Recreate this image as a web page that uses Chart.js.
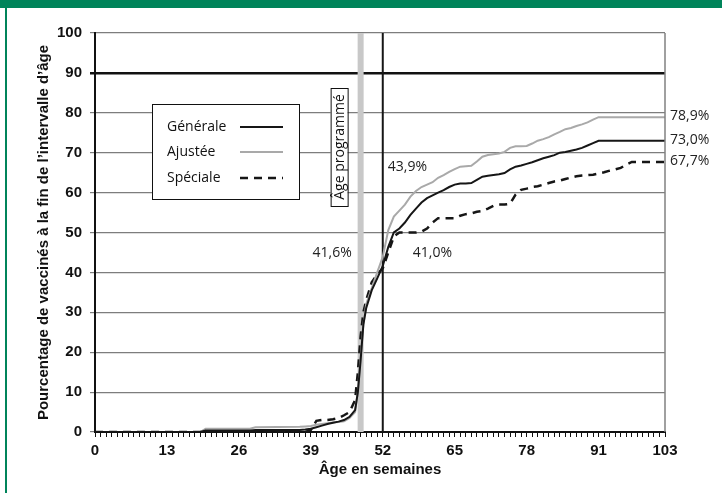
<!DOCTYPE html>
<html lang="fr">
<head>
<meta charset="utf-8">
<script src="https://cdn.jsdelivr.net/npm/chart.js@4.4.0/dist/chart.umd.min.js"></script>
<style>
    html, body { margin: 0; padding: 0; background: #fff; }
    #wrap { position: relative; width: 722px; height: 493px; overflow: hidden; }
    #bandeau { position: absolute; left: 0; top: 0; width: 722px; height: 8px; background: #00845a; z-index: 2; }
    #bord { position: absolute; left: 5px; top: 0; width: 2px; height: 493px; background: #00845a; z-index: 2; }
    canvas { position: absolute; left: 0; top: 0; }
</style>
</head>
<body>
<div id="wrap">
    <canvas id="courbes" width="722" height="493"></canvas>
    <div id="bandeau"></div>
    <div id="bord"></div>
</div>
<script>
// semaines d'âge (axe x)
const semaines = [0, 19, 20, 28, 29, 37, 38, 39, 40, 41, 42, 43, 44, 45, 46, 47, 47.5, 48, 48.5,
    49, 50, 51, 52, 53, 54, 55, 56, 57, 58, 59, 60, 61, 62, 63, 64, 65, 66, 67, 68, 69, 70, 71, 72,
    73, 74, 75, 76, 77, 78, 79, 80, 81, 82, 83, 84, 85, 86, 87, 88, 89, 90, 91, 92, 93, 94, 95, 96, 97, 103];

const generale = [0, 0, 0.4, 0.4, 0.5, 0.5, 0.6, 0.8, 1.2, 1.6, 2.0, 2.3, 2.6, 3.0, 3.8, 5.5, 10, 18, 27,
    31, 35.5, 38.5, 41.6, 46.4, 50, 51, 52.5, 54.4, 56, 57.5, 58.6, 59.3, 60, 60.6, 61.4, 62, 62.3, 62.3, 62.4, 63.2, 64, 64.2, 64.4,
    64.6, 64.9, 65.8, 66.5, 66.8, 67.2, 67.6, 68.1, 68.6, 69, 69.4, 70, 70.2, 70.5, 70.8, 71.2, 71.8, 72.4, 73, 73, 73, 73, 73, 73, 73, 73];

const ajustee = [0, 0, 0.8, 0.8, 1.2, 1.3, 1.4, 1.5, 1.8, 2.0, 2.2, 2.4, 2.5, 2.7, 3.5, 5.0, 10, 19, 27,
    32, 36, 40, 43.9, 50.6, 54, 55.5, 57, 59, 60.4, 61.4, 62, 62.6, 63.7, 64.4, 65.2, 65.9, 66.5, 66.6, 66.7, 67.8, 69, 69.4, 69.6,
    69.8, 70.2, 71.2, 71.6, 71.6, 71.7, 72.3, 73, 73.4, 73.9, 74.6, 75.2, 75.9, 76.2, 76.7, 77.1, 77.6, 78.3, 78.9, 78.9, 78.9, 78.9, 78.9, 78.9, 78.9, 78.9];

const speciale = [0, 0, 0, 0, 0, 0, 0, 0.5, 2.8, 3.0, 3.0, 3.2, 3.5, 4.2, 5.0, 8, 15, 24, 30,
    33, 37.5, 39.5, 41.0, 45, 49, 50, 50, 50, 50, 50.2, 51, 52.5, 53.6, 53.6, 53.6, 53.6, 54.2, 54.6, 54.8, 55.2, 55.4, 56, 56.7,
    57, 57, 57.2, 59.5, 60.7, 61, 61.4, 61.6, 62, 62.4, 62.8, 63, 63.4, 63.8, 64.1, 64.3, 64.4, 64.5, 64.8, 65.1, 65.5, 65.8, 66.2, 67, 67.7, 67.7];

const xTickLabels = [0, 13, 26, 39, 52, 65, 78, 91, 103];
const ageProgramme = 48;
const ageReference = 52;
const seuil = 90;

const pts = (vals) => semaines.map((s, i) => ({ x: s, y: vals[i] }));
const vertical = (age) => [{ x: age, y: 0 }, { x: age, y: 100 }];
const fmt = (v) => v.toFixed(1).replace('.', ',') + '%';
const valeurA = (vals, age) => vals[semaines.indexOf(age)];

const boldFont = { family: "'Liberation Sans Narrow', 'Liberation Sans', sans-serif", weight: 'bold', size: 15 };
const textFont = '14px "Open Sans", "Noto Sans", sans-serif';

const decor = {
    id: 'decor',
    afterDatasetsDraw(chart) {
        const ctx = chart.ctx;
        const area = chart.chartArea;
        const xs = chart.scales.x, ys = chart.scales.y;
        ctx.save();

        // bord droit
        ctx.strokeStyle = '#808080';
        ctx.lineWidth = 1.5;
        ctx.beginPath();
        ctx.moveTo(area.right, area.top);
        ctx.lineTo(area.right, area.bottom);
        ctx.stroke();

        // légende
        const lx = area.left + 57, ly = area.top + 71;
        ctx.fillStyle = '#fff';
        ctx.fillRect(lx, ly, 147, 95);
        ctx.strokeStyle = '#111';
        ctx.lineWidth = 1;
        ctx.strokeRect(lx + 0.5, ly + 0.5, 147, 95);
        ctx.font = textFont;
        ctx.textBaseline = 'middle';
        ctx.textAlign = 'left';
        [23, 48, 74].forEach((dy, i) => {
            const ds = chart.data.datasets[i];
            ctx.fillStyle = '#111';
            ctx.fillText(ds.label, lx + 15, ly + dy);
            ctx.strokeStyle = ds.borderColor;
            ctx.lineWidth = ds.borderWidth;
            ctx.setLineDash(ds.borderDash || []);
            ctx.beginPath();
            ctx.moveTo(lx + 88, ly + dy);
            ctx.lineTo(lx + 131, ly + dy);
            ctx.stroke();
        });
        ctx.setLineDash([]);

        // étiquette "Âge programmé"
        const xp = xs.getPixelForValue(ageProgramme);
        const bx = xp - 30, by = 88, bw = 17, bh = 118;
        ctx.fillStyle = '#fff';
        ctx.fillRect(bx, by, bw, bh);
        ctx.strokeStyle = '#111';
        ctx.lineWidth = 1;
        ctx.strokeRect(bx + 0.5, by + 0.5, bw, bh);
        ctx.save();
        ctx.translate(bx + bw / 2 + 1, by + bh / 2);
        ctx.rotate(-Math.PI / 2);
        ctx.fillStyle = '#111';
        ctx.textAlign = 'center';
        ctx.fillText('Âge programmé', 0, 0);
        ctx.restore();

        // valeurs à 52 semaines
        const xr = xs.getPixelForValue(ageReference);
        ctx.fillStyle = '#222';
        ctx.textAlign = 'left';
        ctx.fillText(fmt(valeurA(ajustee, ageReference)), xr + 5, 167);
        ctx.textAlign = 'right';
        ctx.fillText(fmt(valeurA(generale, ageReference)), xr - 31, 253);
        ctx.textAlign = 'left';
        ctx.fillText(fmt(valeurA(speciale, ageReference)), xr + 30, 253);

        // valeurs finales
        [ajustee, generale, speciale].forEach((vals) => {
            const v = vals[vals.length - 1];
            ctx.fillText(fmt(v), area.right + 5, ys.getPixelForValue(v) - 1);
        });
        ctx.restore();
    }
};

new Chart(document.getElementById('courbes'), {
    type: 'line',
    data: {
        datasets: [
            { label: 'Générale', data: pts(generale), borderColor: '#161616', borderWidth: 2 },
            { label: 'Ajustée', data: pts(ajustee), borderColor: '#a9a9a9', borderWidth: 2 },
            { label: 'Spéciale', data: pts(speciale), borderColor: '#161616', borderWidth: 2.5, borderDash: [8, 6] },
            { label: 'Âge de référence', data: vertical(ageReference), borderColor: '#161616', borderWidth: 2 },
            { label: 'Âge programmé', data: vertical(ageProgramme), borderColor: '#c8c8c8', borderWidth: 6 }
        ]
    },
    options: {
        responsive: false,
        animation: false,
        devicePixelRatio: 1,
        layout: { padding: { left: 0, right: 57, top: 33, bottom: 0 } },
        elements: { point: { radius: 0 }, line: { tension: 0, fill: false } },
        plugins: { legend: { display: false }, tooltip: { enabled: false } },
        scales: {
            x: {
                type: 'linear',
                min: 0,
                max: 103,
                afterFit(s) { s.height = 61; },
                ticks: {
                    stepSize: 1,
                    autoSkip: false,
                    maxRotation: 0,
                    padding: 5,
                    color: '#111',
                    font: boldFont,
                    callback: (v) => xTickLabels.includes(v) ? String(v) : ''
                },
                grid: { drawOnChartArea: false, drawTicks: true, tickLength: 5, color: '#111', lineWidth: 1 },
                border: { color: '#111', width: 2 },
                title: { display: true, text: 'Âge en semaines', color: '#111', font: boldFont, padding: { top: 0, bottom: 14 } }
            },
            y: {
                min: 0,
                max: 100,
                afterFit(s) { s.width = 95; },
                ticks: { stepSize: 10, padding: 8, color: '#111', font: boldFont },
                grid: {
                    tickLength: 5,
                    color: (c) => c.tick && c.tick.value === seuil ? '#111' : '#7d7d7d',
                    lineWidth: (c) => c.tick && c.tick.value === seuil ? 2.5 : 1.2
                },
                border: { color: '#111', width: 2 },
                title: {
                    display: true,
                    text: 'Pourcentage de vaccinés à la fin de l’intervalle d’âge',
                    color: '#111',
                    font: boldFont,
                    padding: { top: 35, bottom: 0 }
                }
            }
        }
    },
    plugins: [decor]
});
</script>
</body>
</html>
